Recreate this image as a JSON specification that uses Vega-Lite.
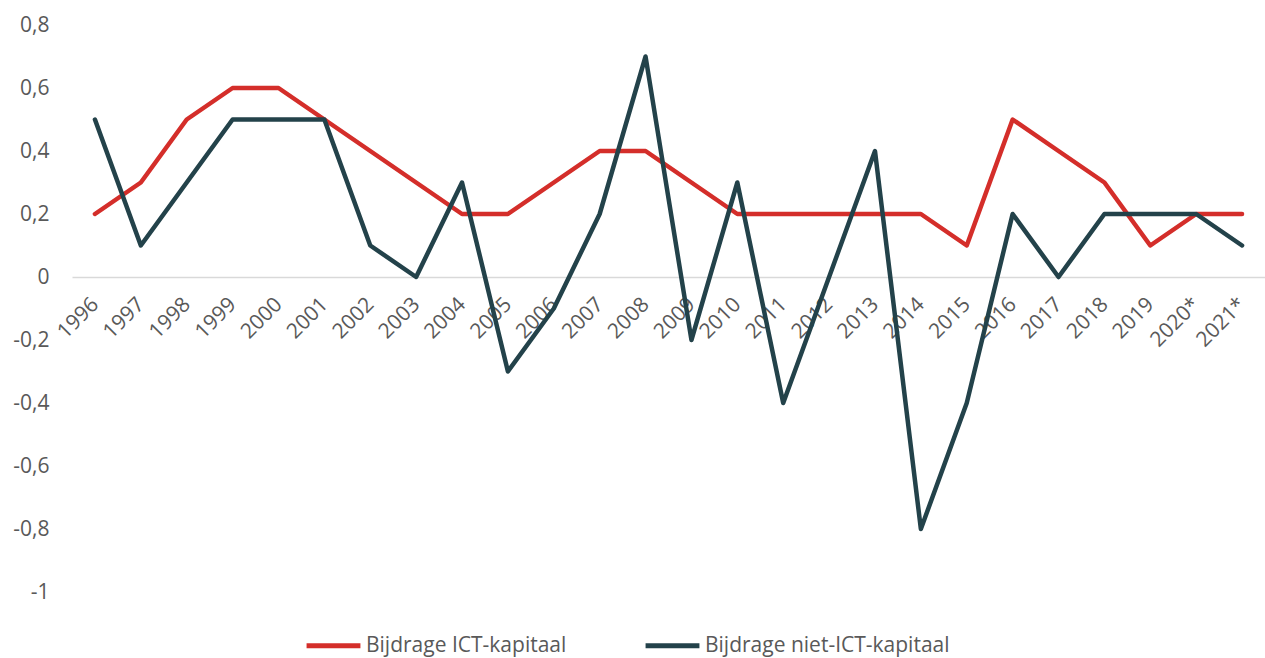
{
  "$schema": "https://vega.github.io/schema/vega-lite/v6.json",
  "width": 1193,
  "height": 567,
  "autosize": "none",
  "padding": {"left": 72, "top": 25, "right": 0, "bottom": 66},
  "background": "white",
  "config": {
    "font": "Open Sans",
    "view": {"stroke": null}
  },
  "data": {
    "values": [
      {"year": "1996", "series": "Bijdrage ICT-kapitaal", "value": 0.2},
      {"year": "1997", "series": "Bijdrage ICT-kapitaal", "value": 0.3},
      {"year": "1998", "series": "Bijdrage ICT-kapitaal", "value": 0.5},
      {"year": "1999", "series": "Bijdrage ICT-kapitaal", "value": 0.6},
      {"year": "2000", "series": "Bijdrage ICT-kapitaal", "value": 0.6},
      {"year": "2001", "series": "Bijdrage ICT-kapitaal", "value": 0.5},
      {"year": "2002", "series": "Bijdrage ICT-kapitaal", "value": 0.4},
      {"year": "2003", "series": "Bijdrage ICT-kapitaal", "value": 0.3},
      {"year": "2004", "series": "Bijdrage ICT-kapitaal", "value": 0.2},
      {"year": "2005", "series": "Bijdrage ICT-kapitaal", "value": 0.2},
      {"year": "2006", "series": "Bijdrage ICT-kapitaal", "value": 0.3},
      {"year": "2007", "series": "Bijdrage ICT-kapitaal", "value": 0.4},
      {"year": "2008", "series": "Bijdrage ICT-kapitaal", "value": 0.4},
      {"year": "2009", "series": "Bijdrage ICT-kapitaal", "value": 0.3},
      {"year": "2010", "series": "Bijdrage ICT-kapitaal", "value": 0.2},
      {"year": "2011", "series": "Bijdrage ICT-kapitaal", "value": 0.2},
      {"year": "2012", "series": "Bijdrage ICT-kapitaal", "value": 0.2},
      {"year": "2013", "series": "Bijdrage ICT-kapitaal", "value": 0.2},
      {"year": "2014", "series": "Bijdrage ICT-kapitaal", "value": 0.2},
      {"year": "2015", "series": "Bijdrage ICT-kapitaal", "value": 0.1},
      {"year": "2016", "series": "Bijdrage ICT-kapitaal", "value": 0.5},
      {"year": "2017", "series": "Bijdrage ICT-kapitaal", "value": 0.4},
      {"year": "2018", "series": "Bijdrage ICT-kapitaal", "value": 0.3},
      {"year": "2019", "series": "Bijdrage ICT-kapitaal", "value": 0.1},
      {"year": "2020*", "series": "Bijdrage ICT-kapitaal", "value": 0.2},
      {"year": "2021*", "series": "Bijdrage ICT-kapitaal", "value": 0.2},
      {"year": "1996", "series": "Bijdrage niet-ICT-kapitaal", "value": 0.5},
      {"year": "1997", "series": "Bijdrage niet-ICT-kapitaal", "value": 0.1},
      {"year": "1998", "series": "Bijdrage niet-ICT-kapitaal", "value": 0.3},
      {"year": "1999", "series": "Bijdrage niet-ICT-kapitaal", "value": 0.5},
      {"year": "2000", "series": "Bijdrage niet-ICT-kapitaal", "value": 0.5},
      {"year": "2001", "series": "Bijdrage niet-ICT-kapitaal", "value": 0.5},
      {"year": "2002", "series": "Bijdrage niet-ICT-kapitaal", "value": 0.1},
      {"year": "2003", "series": "Bijdrage niet-ICT-kapitaal", "value": 0.0},
      {"year": "2004", "series": "Bijdrage niet-ICT-kapitaal", "value": 0.3},
      {"year": "2005", "series": "Bijdrage niet-ICT-kapitaal", "value": -0.3},
      {"year": "2006", "series": "Bijdrage niet-ICT-kapitaal", "value": -0.1},
      {"year": "2007", "series": "Bijdrage niet-ICT-kapitaal", "value": 0.2},
      {"year": "2008", "series": "Bijdrage niet-ICT-kapitaal", "value": 0.7},
      {"year": "2009", "series": "Bijdrage niet-ICT-kapitaal", "value": -0.2},
      {"year": "2010", "series": "Bijdrage niet-ICT-kapitaal", "value": 0.3},
      {"year": "2011", "series": "Bijdrage niet-ICT-kapitaal", "value": -0.4},
      {"year": "2012", "series": "Bijdrage niet-ICT-kapitaal", "value": 0.0},
      {"year": "2013", "series": "Bijdrage niet-ICT-kapitaal", "value": 0.4},
      {"year": "2014", "series": "Bijdrage niet-ICT-kapitaal", "value": -0.8},
      {"year": "2015", "series": "Bijdrage niet-ICT-kapitaal", "value": -0.4},
      {"year": "2016", "series": "Bijdrage niet-ICT-kapitaal", "value": 0.2},
      {"year": "2017", "series": "Bijdrage niet-ICT-kapitaal", "value": 0.0},
      {"year": "2018", "series": "Bijdrage niet-ICT-kapitaal", "value": 0.2},
      {"year": "2019", "series": "Bijdrage niet-ICT-kapitaal", "value": 0.2},
      {"year": "2020*", "series": "Bijdrage niet-ICT-kapitaal", "value": 0.2},
      {"year": "2021*", "series": "Bijdrage niet-ICT-kapitaal", "value": 0.1}
    ]
  },
  "mark": {"type": "line", "strokeWidth": 4.5, "strokeCap": "round", "strokeJoin": "round"},
  "encoding": {
    "x": {
      "field": "year",
      "type": "ordinal",
      "sort": null,
      "scale": {"type": "point", "padding": 0.5},
      "axis": {
        "title": null,
        "offset": -315,
        "ticks": false,
        "domainColor": "#d9d9d9",
        "domainWidth": 1.5,
        "labelAngle": -45,
        "labelAlign": "right",
        "labelBaseline": "middle",
        "labelPadding": 24,
        "labelFontSize": 21,
        "labelColor": "#595959",
        "labelOverlap": false
      }
    },
    "y": {
      "field": "value",
      "type": "quantitative",
      "scale": {"domain": [-1, 0.8], "nice": false, "zero": false},
      "axis": {
        "title": null,
        "values": [-1, -0.8, -0.6, -0.4, -0.2, 0, 0.2, 0.4, 0.6, 0.8],
        "labelExpr": "replace(toString(round(datum.value * 10) / 10), '.', ',')",
        "domain": false,
        "ticks": false,
        "grid": false,
        "labelPadding": 23,
        "labelFontSize": 21,
        "labelColor": "#595959"
      }
    },
    "color": {
      "field": "series",
      "type": "nominal",
      "scale": {
        "domain": ["Bijdrage ICT-kapitaal", "Bijdrage niet-ICT-kapitaal"],
        "range": ["#d42e2a", "#23424a"]
      },
      "legend": {
        "title": null,
        "orient": "none",
        "direction": "horizontal",
        "legendX": 232,
        "legendY": 591,
        "symbolType": "stroke",
        "symbolSize": 2900,
        "symbolStrokeWidth": 5,
        "labelFontSize": 21,
        "labelColor": "#595959",
        "labelOffset": 3,
        "columnPadding": 68,
        "labelLimit": 400
      }
    }
  }
}
